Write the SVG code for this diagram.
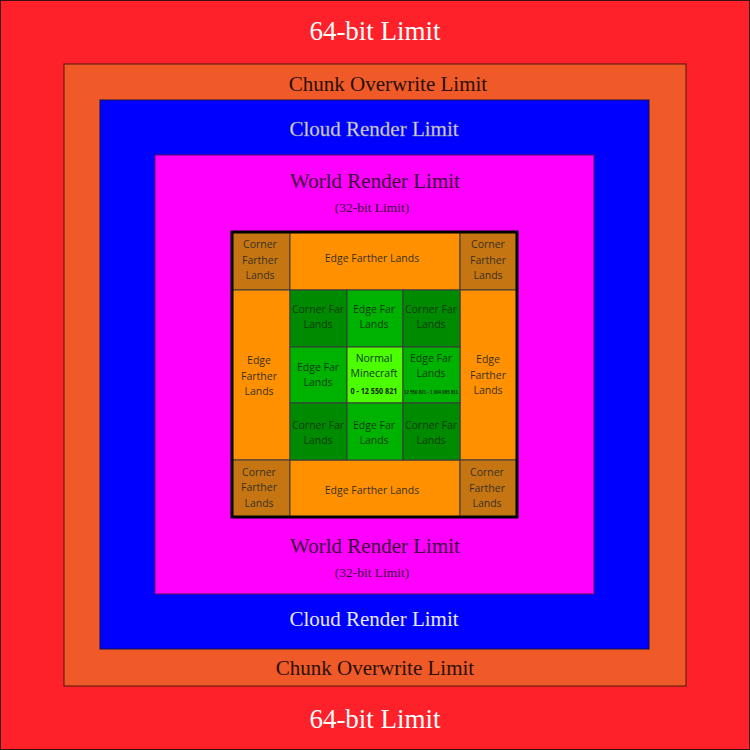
<svg xmlns="http://www.w3.org/2000/svg" width="750" height="750" viewBox="0 0 750 750">
<style>
.lim{font-family:"Liberation Serif",serif;text-anchor:middle}
.cell{stroke:#3a3a3a;stroke-width:1}
.t{font-family:"Open Sans","Noto Sans",sans-serif;font-size:10.5px;text-anchor:middle;fill:#3a3020}
.g{fill:#0b3a0b}
.num{font-family:"Open Sans","Noto Sans",sans-serif;font-size:8px;text-anchor:middle;fill:#0b2a0b;font-weight:bold}
.num2{font-family:"Liberation Sans Narrow","Liberation Sans",sans-serif;font-size:6px;text-anchor:middle;fill:#0b2a0b;font-weight:bold}
</style>
<g id="limit64">
<rect x="0.5" y="0.5" width="749" height="749" fill="#FE2129" stroke="#3a1010" stroke-width="1"/>
<text class="lim" x="375" y="40" font-size="27" fill="#FFFFFF">64-bit Limit</text>
<text class="lim" x="375" y="728" font-size="27" fill="#FFFFFF">64-bit Limit</text>
</g>
<g id="chunk">
<rect x="64" y="64" width="622" height="622" fill="#F05A28" stroke="#4a1a0a" stroke-width="1"/>
<text class="lim" x="388" y="91" font-size="21" fill="#2a0f05">Chunk Overwrite Limit</text>
<text class="lim" x="375" y="675" font-size="21" fill="#2a0f05">Chunk Overwrite Limit</text>
</g>
<g id="cloud">
<rect x="100" y="100" width="549" height="549" fill="#0000FF" stroke="#10104a" stroke-width="1"/>
<text class="lim" x="374" y="136" font-size="21" fill="#D8D8E8" stroke="#8888aa" stroke-width="0.4">Cloud Render Limit</text>
<text class="lim" x="374" y="626" font-size="21" fill="#E8E8FF">Cloud Render Limit</text>
</g>
<g id="world">
<rect x="155" y="155" width="439" height="439" fill="#FF00FF" stroke="#5a105a" stroke-width="1"/>
<text class="lim" x="375" y="188" font-size="21" fill="#3a003a">World Render Limit</text>
<text class="lim" x="372" y="212" font-size="13.5" fill="#3a003a">(32-bit Limit)</text>
<text class="lim" x="375" y="553" font-size="21" fill="#3a003a">World Render Limit</text>
<text class="lim" x="372" y="577" font-size="13.5" fill="#3a003a">(32-bit Limit)</text>
</g>
<g id="grid">
<g id="farther-corner-tl"><rect class="cell" x="232" y="232" width="58" height="58" fill="#C57612"/>
<text class="t" x="260"><tspan x="260" y="248">Corner</tspan><tspan x="260" y="264">Farther</tspan><tspan x="260" y="279">Lands</tspan></text></g>
<g id="farther-edge-top"><rect class="cell" x="290" y="232" width="170" height="58" fill="#FF9100"/>
<text class="t" x="372" y="262">Edge Farther Lands</text></g>
<g id="farther-corner-tr"><rect class="cell" x="460" y="232" width="57" height="58" fill="#C57612"/>
<text class="t"><tspan x="488" y="248">Corner</tspan><tspan x="488" y="264">Farther</tspan><tspan x="488" y="279">Lands</tspan></text></g>
<g id="farther-edge-left"><rect class="cell" x="232" y="290" width="58" height="170" fill="#FF9100"/>
<text class="t"><tspan x="259" y="364">Edge</tspan><tspan x="259" y="380">Farther</tspan><tspan x="259" y="395">Lands</tspan></text></g>
<g id="farther-edge-right"><rect class="cell" x="460" y="290" width="57" height="170" fill="#FF9100"/>
<text class="t"><tspan x="488" y="363">Edge</tspan><tspan x="488" y="379">Farther</tspan><tspan x="488" y="394">Lands</tspan></text></g>
<g id="farther-corner-bl"><rect class="cell" x="232" y="460" width="58" height="57" fill="#C57612"/>
<text class="t"><tspan x="259" y="476">Corner</tspan><tspan x="259" y="491">Farther</tspan><tspan x="259" y="507">Lands</tspan></text></g>
<g id="farther-edge-bottom"><rect class="cell" x="290" y="460" width="170" height="57" fill="#FF9100"/>
<text class="t" x="372" y="494">Edge Farther Lands</text></g>
<g id="farther-corner-br"><rect class="cell" x="460" y="460" width="57" height="57" fill="#C57612"/>
<text class="t"><tspan x="487" y="476">Corner</tspan><tspan x="487" y="492">Farther</tspan><tspan x="487" y="507">Lands</tspan></text></g>
<g id="far-corner-tl"><rect class="cell" x="290" y="290" width="57" height="57" fill="#008A00"/>
<text class="t g"><tspan x="318" y="313">Corner Far</tspan><tspan x="318" y="328">Lands</tspan></text></g>
<g id="far-edge-top"><rect class="cell" x="347" y="290" width="56" height="57" fill="#00B200"/>
<text class="t g"><tspan x="374" y="313">Edge Far</tspan><tspan x="374" y="328">Lands</tspan></text></g>
<g id="far-corner-tr"><rect class="cell" x="403" y="290" width="57" height="57" fill="#008A00"/>
<text class="t g"><tspan x="431" y="313">Corner Far</tspan><tspan x="431" y="328">Lands</tspan></text></g>
<g id="far-edge-left"><rect class="cell" x="290" y="347" width="57" height="56" fill="#00B200"/>
<text class="t g"><tspan x="318" y="371">Edge Far</tspan><tspan x="318" y="386">Lands</tspan></text></g>
<g id="normal"><rect class="cell" x="347" y="347" width="56" height="56" fill="#4CFF00"/>
<text class="t g"><tspan x="374" y="362">Normal</tspan><tspan x="374" y="377">Minecraft</tspan></text>
<text class="num" x="374" y="394" textLength="47" lengthAdjust="spacingAndGlyphs">0 - 12 550 821</text></g>
<g id="far-edge-right"><rect class="cell" x="403" y="347" width="57" height="56" fill="#00B200"/>
<text class="t g"><tspan x="431" y="362">Edge Far</tspan><tspan x="431" y="377">Lands</tspan></text>
<text class="num2" x="431" y="393.5" textLength="54" lengthAdjust="spacingAndGlyphs">12 550 821 - 1 004 065 811</text></g>
<g id="far-corner-bl"><rect class="cell" x="290" y="403" width="57" height="57" fill="#008A00"/>
<text class="t g"><tspan x="318" y="429">Corner Far</tspan><tspan x="318" y="444">Lands</tspan></text></g>
<g id="far-edge-bottom"><rect class="cell" x="347" y="403" width="56" height="57" fill="#00B200"/>
<text class="t g"><tspan x="374" y="429">Edge Far</tspan><tspan x="374" y="444">Lands</tspan></text></g>
<g id="far-corner-br"><rect class="cell" x="403" y="403" width="57" height="57" fill="#008A00"/>
<text class="t g"><tspan x="431" y="429">Corner Far</tspan><tspan x="431" y="444">Lands</tspan></text></g>
<rect x="232" y="232" width="285" height="285" fill="none" stroke="#000" stroke-width="3"/>
</g>
</svg>
